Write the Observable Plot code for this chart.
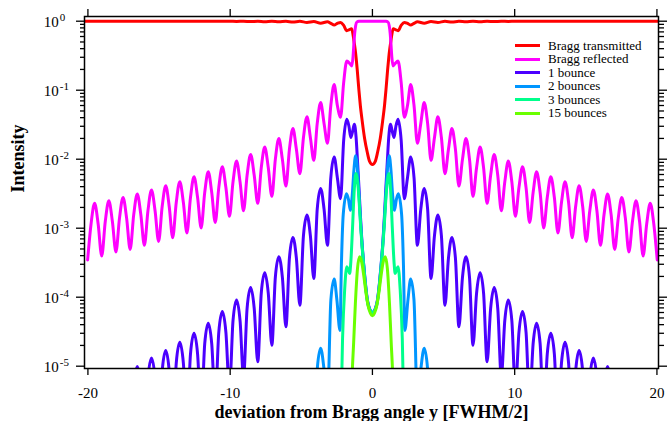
<!DOCTYPE html>
<html><head><meta charset="utf-8">
<script src="https://cdn.jsdelivr.net/npm/d3@7"></script>
<script src="https://cdn.jsdelivr.net/npm/@observablehq/plot@0.6"></script>
<style>
body{margin:0;background:#fff;}
#wrap{position:relative;width:668px;height:421px;font-family:"Liberation Serif","Times New Roman",serif;}
#legend{position:absolute;left:515px;top:39px;font-size:13px;color:#000;}
.row{display:flex;align-items:center;height:13.5px;white-space:nowrap;}
.sw{display:inline-block;width:25px;height:3px;margin-right:8px;}
</style></head><body><div id="wrap"><div id="legend"></div></div>
<script>
const seriesNames = ["Bragg transmitted","Bragg reflected","1 bounce","2 bounces","3 bounces","15 bounces"];
const seriesColors = ["#ff0000","#ff00ff","#4b00ff","#0096ff","#00ff8c","#6aff00"];
const xTicks = [-20,-10,0,10,20];
const xTickLabels = ["-20","-10","0","10","20"];
const yMajor = [1,1e-1,1e-2,1e-3,1e-4,1e-5];
const yExponents = ["0","-1","-2","-3","-4","-5"];
const yMinor = yMajor.slice(1).flatMap(d => [2,3,4,5,6,7,8,9].map(m => m*d));

// [deviation y, intensity]
const transmitted = [[-20.2,1.0],[-16,1.0],[-12,1.0],[-10.05,1.0],[-9.55,0.991],[-9.06,0.999],[-8.56,0.988],[-8.06,0.998],[-7.57,0.985],[-7.07,0.997],[-6.58,0.98],[-6.08,0.996],[-5.59,0.973],[-5.1,0.995],[-4.6,0.96],[-4.12,0.99],[-3.64,0.935],[-3.16,0.98],[-2.925,0.93],[-2.69,0.88],[-2.465,0.93],[-2.24,0.96],[-2.02,0.87],[-1.8,0.73],[-1.62,0.755],[-1.47,0.78],[-1.38,0.67],[-1.3,0.52],[-1.22,0.4],[-1.15,0.3],[-1.07,0.2],[-0.95,0.1],[-0.85,0.06],[-0.72,0.036],[-0.55,0.02],[-0.37,0.0128],[-0.2,0.0093],[0,0.0084],
[0.2,0.0093],[0.37,0.0128],[0.55,0.02],[0.72,0.036],[0.85,0.06],[0.95,0.1],[1.07,0.2],[1.15,0.3],[1.22,0.4],[1.3,0.52],[1.38,0.67],[1.47,0.78],[1.62,0.755],[1.8,0.73],[2.02,0.87],[2.24,0.96],[2.465,0.93],[2.69,0.88],[2.925,0.93],[3.16,0.98],[3.64,0.935],[4.12,0.99],[4.6,0.96],[5.1,0.995],[5.59,0.973],[6.08,0.996],[6.58,0.98],[7.07,0.997],[7.57,0.985],[8.06,0.998],[8.56,0.988],[9.06,0.999],[9.55,0.991],[10.05,1.0],[12,1.0],[16,1.0],[20.2,1.0]];

const reflected = [[-20.02,0.000347],[-19.78,0.00115],[-19.53,0.00229],[-19.28,0.00115],[-19.03,0.000396],[-18.78,0.00125],[-18.53,0.0025],[-18.28,0.00125],[-18.03,0.000453],[-17.78,0.0014],[-17.53,0.00279],[-17.28,0.0014],[-17.03,0.000493],[-16.78,0.00157],[-16.53,0.00313],[-16.28,0.00157],[-16.03,0.000564],[-15.78,0.00179],[-15.53,0.00357],[-15.28,0.00179],[-15.03,0.000644],[-14.78,0.00206],[-14.53,0.00412],[-14.285,0.00206],[-14.04,0.000729],[-13.79,0.00236],[-13.54,0.00471],[-13.29,0.00236],[-13.04,0.000853],[-12.79,0.00278],[-12.54,0.00555],[-12.29,0.00278],[-12.04,0.00101],[-11.79,0.00328],[-11.54,0.00656],[-11.295,0.00328],[-11.05,0.00121],[-10.8,0.00388],[-10.55,0.00776],[-10.3,0.00388],[-10.05,0.00149],[-9.8,0.00469],[-9.55,0.00938],[-9.305,0.00469],[-9.06,0.00179],[-8.81,0.00585],[-8.56,0.0117],[-8.31,0.00585],[-8.06,0.00229],[-7.815,0.0075],[-7.57,0.015],[-7.32,0.0075],[-7.07,0.0029],[-6.825,0.00995],[-6.58,0.0199],[-6.33,0.00995],[-6.08,0.00408],[-5.835,0.0139],[-5.59,0.0278],[-5.345,0.0139],[-5.1,0.00615],[-4.85,0.0205],[-4.6,0.0411],[-4.36,0.0205],[-4.12,0.00964],[-3.88,0.033],[-3.64,0.0662],[-3.4,0.033],[-3.16,0.017],[-2.925,0.06],[-2.69,0.1205],[-2.465,0.06],[-2.24,0.0406],[-2.02,0.13],[-1.8,0.265],[-1.6,0.245],[-1.45,0.225],[-1.36,0.31],[-1.3,0.48],[-1.25,0.66],[-1.18,0.86],[-1.1,0.97],[-0.95,0.995],[-0.6,1.0],[0,1.0],
[0.6,1.0],[0.95,0.995],[1.1,0.97],[1.18,0.86],[1.25,0.66],[1.3,0.48],[1.36,0.31],[1.45,0.225],[1.6,0.245],[1.8,0.265],[2.02,0.13],[2.24,0.0406],[2.465,0.06],[2.69,0.1205],[2.925,0.06],[3.16,0.017],[3.4,0.033],[3.64,0.0662],[3.88,0.033],[4.12,0.00964],[4.36,0.0205],[4.6,0.0411],[4.85,0.0205],[5.1,0.00615],[5.345,0.0139],[5.59,0.0278],[5.835,0.0139],[6.08,0.00408],[6.33,0.00995],[6.58,0.0199],[6.825,0.00995],[7.07,0.0029],[7.32,0.0075],[7.57,0.015],[7.815,0.0075],[8.06,0.00229],[8.31,0.00585],[8.56,0.0117],[8.81,0.00585],[9.06,0.00179],[9.305,0.00469],[9.55,0.00938],[9.8,0.00469],[10.05,0.00149],[10.3,0.00388],[10.55,0.00776],[10.8,0.00388],[11.05,0.00121],[11.295,0.00328],[11.54,0.00656],[11.79,0.00328],[12.04,0.00101],[12.29,0.00278],[12.54,0.00555],[12.79,0.00278],[13.04,0.000853],[13.29,0.00236],[13.54,0.00471],[13.79,0.00236],[14.04,0.000729],[14.285,0.00206],[14.53,0.00412],[14.78,0.00206],[15.03,0.000644],[15.28,0.00179],[15.53,0.00357],[15.78,0.00179],[16.03,0.000564],[16.28,0.00157],[16.53,0.00313],[16.78,0.00157],[17.03,0.000493],[17.28,0.0014],[17.53,0.00279],[17.78,0.0014],[18.03,0.000453],[18.28,0.00125],[18.53,0.0025],[18.78,0.00125],[19.03,0.000396],[19.28,0.00115],[19.53,0.00229],[19.78,0.00115],[20.02,0.000347]];

const bounce1 = [[-20.02,2e-7],[-19.53,4.5e-6],[-19.03,2.7e-7],[-18.53,5.8e-6],[-18.03,3.5e-7],[-17.53,7.5e-6],[-17.03,4.5e-7],[-16.78,5e-6],[-16.53,9.9e-6],[-16.28,5e-6],[-16.03,6e-7],[-15.78,6.6e-6],[-15.53,1.31e-5],[-15.28,6.6e-6],[-15.03,8e-7],[-14.78,8.5e-6],[-14.53,1.69e-5],[-14.285,8.5e-6],[-14.04,1.1e-6],[-13.79,1.11e-5],[-13.54,2.22e-5],[-13.29,1.11e-5],[-13.04,1.5e-6],[-12.79,1.5e-5],[-12.54,3e-5],[-12.29,1.5e-5],[-12.04,2e-6],[-11.79,2.1e-5],[-11.54,4.19e-5],[-11.295,2.1e-5],[-11.05,3e-6],[-10.8,3.1e-5],[-10.55,6.19e-5],[-10.3,3.1e-5],[-10.05,4.5e-6],[-9.8,4.57e-5],[-9.55,9.14e-5],[-9.305,4.57e-5],[-9.06,7e-6],[-8.81,6.9e-5],[-8.56,1.377e-4],[-8.31,6.9e-5],[-8.06,1.16e-5],[-7.815,1.14e-4],[-7.57,2.27e-4],[-7.32,1.14e-4],[-7.07,2.01e-5],[-6.825,1.94e-4],[-6.58,3.87e-4],[-6.33,1.94e-4],[-6.08,3.72e-5],[-5.835,3.68e-4],[-5.59,7.36e-4],[-5.345,3.68e-4],[-5.1,7.63e-5],[-4.85,7.75e-4],[-4.6,1.55e-3],[-4.36,7.75e-4],[-4.12,1.86e-4],[-3.88,1.89e-3],[-3.64,3.77e-3],[-3.4,1.89e-3],[-3.16,5.64e-4],[-2.925,5.4e-3],[-2.69,0.0108],[-2.465,5.4e-3],[-2.24,2.67e-3],[-2.02,0.0189],[-1.8,0.0378],[-1.65,0.03],[-1.52,0.0207],[-1.4,0.025],[-1.27,0.032],[-1.15,0.021],[-1.05,9.5e-3],[-0.95,4e-3],[-0.85,1.6e-3],[-0.75,7e-4],[-0.62,3.1e-4],[-0.5,1.65e-4],[-0.35,9e-5],[-0.2,6.8e-5],[0,6e-5],
[0.2,6.8e-5],[0.35,9e-5],[0.5,1.65e-4],[0.62,3.1e-4],[0.75,7e-4],[0.85,1.6e-3],[0.95,4e-3],[1.05,9.5e-3],[1.15,0.021],[1.27,0.032],[1.4,0.025],[1.52,0.0207],[1.65,0.03],[1.8,0.0378],[2.02,0.0189],[2.24,2.67e-3],[2.465,5.4e-3],[2.69,0.0108],[2.925,5.4e-3],[3.16,5.64e-4],[3.4,1.89e-3],[3.64,3.77e-3],[3.88,1.89e-3],[4.12,1.86e-4],[4.36,7.75e-4],[4.6,1.55e-3],[4.85,7.75e-4],[5.1,7.63e-5],[5.345,3.68e-4],[5.59,7.36e-4],[5.835,3.68e-4],[6.08,3.72e-5],[6.33,1.94e-4],[6.58,3.87e-4],[6.825,1.94e-4],[7.07,2.01e-5],[7.32,1.14e-4],[7.57,2.27e-4],[7.815,1.14e-4],[8.06,1.16e-5],[8.31,6.9e-5],[8.56,1.377e-4],[8.81,6.9e-5],[9.06,7e-6],[9.305,4.57e-5],[9.55,9.14e-5],[9.8,4.57e-5],[10.05,4.5e-6],[10.3,3.1e-5],[10.55,6.19e-5],[10.8,3.1e-5],[11.05,3e-6],[11.295,2.1e-5],[11.54,4.19e-5],[11.79,2.1e-5],[12.04,2e-6],[12.29,1.5e-5],[12.54,3e-5],[12.79,1.5e-5],[13.04,1.5e-6],[13.29,1.11e-5],[13.54,2.22e-5],[13.79,1.11e-5],[14.04,1.1e-6],[14.285,8.5e-6],[14.53,1.69e-5],[14.78,8.5e-6],[15.03,8e-7],[15.28,6.6e-6],[15.53,1.31e-5],[15.78,6.6e-6],[16.03,6e-7],[16.28,5e-6],[16.53,9.9e-6],[16.78,5e-6],[17.03,4.5e-7],[17.53,7.5e-6],[18.03,3.5e-7],[18.53,5.8e-6],[19.03,2.7e-7],[19.53,4.5e-6],[20.02,2e-7]];

const bounce2 = [[-5.1,3e-7],[-4.6,2.5e-6],[-4.12,1e-6],[-3.88,9e-6],[-3.64,1.82e-5],[-3.4,9e-6],[-3.16,3e-6],[-2.92,9.2e-5],[-2.69,1.84e-4],[-2.5,9.2e-5],[-2.28,3.3e-5],[-2.18,3e-4],[-2.05,1.6e-3],[-1.82,3.16e-3],[-1.68,2.6e-3],[-1.55,1.82e-3],[-1.42,3e-3],[-1.3,7e-3],[-1.18,0.0112],[-1.08,8.5e-3],[-1.0,4.8e-3],[-0.92,2.5e-3],[-0.82,1.1e-3],[-0.72,5.5e-4],[-0.62,3e-4],[-0.5,1.6e-4],[-0.35,8.8e-5],[-0.2,6.7e-5],[0,6e-5],
[0.2,6.7e-5],[0.35,8.8e-5],[0.5,1.6e-4],[0.62,3e-4],[0.72,5.5e-4],[0.82,1.1e-3],[0.92,2.5e-3],[1.0,4.8e-3],[1.08,8.5e-3],[1.18,0.0112],[1.3,7e-3],[1.42,3e-3],[1.55,1.82e-3],[1.68,2.6e-3],[1.82,3.16e-3],[2.05,1.6e-3],[2.18,3e-4],[2.28,3.3e-5],[2.5,9.2e-5],[2.69,1.84e-4],[2.92,9.2e-5],[3.16,3e-6],[3.4,9e-6],[3.64,1.82e-5],[3.88,9e-6],[4.12,1e-6],[4.6,2.5e-6],[5.1,3e-7]];

const bounce3 = [[-2.24,1e-6],[-2.1,2.5e-5],[-1.95,1.3e-4],[-1.8,2.77e-4],[-1.7,2.5e-4],[-1.6,2.2e-4],[-1.52,3.2e-4],[-1.4,1e-3],[-1.28,3.5e-3],[-1.17,6.2e-3],[-1.08,5.4e-3],[-1.0,3.8e-3],[-0.92,2.2e-3],[-0.82,1e-3],[-0.72,5.2e-4],[-0.62,2.9e-4],[-0.5,1.55e-4],[-0.35,8.6e-5],[-0.2,6.6e-5],[0,6e-5],
[0.2,6.6e-5],[0.35,8.6e-5],[0.5,1.55e-4],[0.62,2.9e-4],[0.72,5.2e-4],[0.82,1e-3],[0.92,2.2e-3],[1.0,3.8e-3],[1.08,5.4e-3],[1.17,6.2e-3],[1.28,3.5e-3],[1.4,1e-3],[1.52,3.2e-4],[1.6,2.2e-4],[1.7,2.5e-4],[1.8,2.77e-4],[1.95,1.3e-4],[2.1,2.5e-5],[2.24,1e-6]];

const bounce15 = [[-1.55,1e-6],[-1.42,8e-6],[-1.32,2.2e-5],[-1.2,8e-5],[-1.05,2.6e-4],[-0.9,3.87e-4],[-0.75,3.2e-4],[-0.6,2e-4],[-0.45,1.15e-4],[-0.3,7.5e-5],[-0.15,5.9e-5],[0,5.4e-5],
[0.15,5.9e-5],[0.3,7.5e-5],[0.45,1.15e-4],[0.6,2e-4],[0.75,3.2e-4],[0.9,3.87e-4],[1.05,2.6e-4],[1.2,8e-5],[1.32,2.2e-5],[1.42,8e-6],[1.55,1e-6]];

const series = [transmitted, reflected, bounce1, bounce2, bounce3, bounce15];

const lineMarks = series.map((arr, i) => Plot.line(arr, {
  x: d => d[0], y: d => d[1], stroke: seriesColors[i], strokeWidth: 3,
  curve: "monotone-x", clip: true, strokeLinejoin: "round"
}));

const tickOpts = {tickFormat: () => "", label: null, stroke: "black", strokeWidth: 1.3};

const chart = Plot.plot({
  width: 668, height: 421,
  marginLeft: 84, marginRight: 10, marginTop: 16, marginBottom: 53,
  x: {domain: [-20.24, 20.11], axis: null},
  y: {type: "log", domain: [9.26e-6, 1.17], axis: null},
  style: {fontFamily: '"Liberation Serif","Times New Roman",serif', background: "#fff", color: "#000", overflow: "visible"},
  marks: [
    ...lineMarks,
    Plot.frame({stroke: "black", strokeWidth: 1.5}),
    Plot.axisX({...tickOpts, anchor: "bottom", ticks: xTicks, tickSize: 7}),
    Plot.axisX({...tickOpts, anchor: "top", ticks: xTicks, tickSize: 8}),
    Plot.axisY({...tickOpts, anchor: "left", ticks: yMajor, tickSize: 8}),
    Plot.axisY({...tickOpts, anchor: "left", ticks: yMinor, tickSize: 4}),
    Plot.axisY({...tickOpts, anchor: "right", ticks: yMajor, tickSize: 8}),
    Plot.axisY({...tickOpts, anchor: "right", ticks: yMinor, tickSize: 5}),
    Plot.text(xTicks, {x: d => d, text: (d, i) => xTickLabels[i], frameAnchor: "bottom", dy: 24.5, lineAnchor: "middle", fontSize: 15, fill: "black"}),
    Plot.text(yMajor, {y: d => d, text: () => "10", frameAnchor: "left", dx: -25.7, dy: 1.3, textAnchor: "end", lineAnchor: "middle", fontSize: 15, fill: "black"}),
    Plot.text(yMajor, {y: d => d, text: (d, i) => yExponents[i], frameAnchor: "left", dx: -24.7, dy: -4, textAnchor: "start", lineAnchor: "middle", fontSize: 11, fill: "black"}),
    Plot.text(["deviation from Bragg angle y [FWHM/2]"], {frameAnchor: "bottom", dy: 44, lineAnchor: "middle", fontSize: 18, fontWeight: "bold", fill: "black"}),
    Plot.text(["Intensity"], {frameAnchor: "left", dx: -66, rotate: -90, lineAnchor: "middle", fontSize: 18, fontWeight: "bold", fill: "black"})
  ]
});

const wrap = document.getElementById("wrap");
wrap.insertBefore(chart, wrap.firstChild);
const legend = document.getElementById("legend");
seriesNames.forEach((name, i) => {
  const row = document.createElement("div");
  row.className = "row";
  const sw = document.createElement("span");
  sw.className = "sw";
  sw.style.background = seriesColors[i];
  const label = document.createElement("span");
  label.textContent = name;
  row.appendChild(sw); row.appendChild(label);
  legend.appendChild(row);
});
</script>
</body></html>
